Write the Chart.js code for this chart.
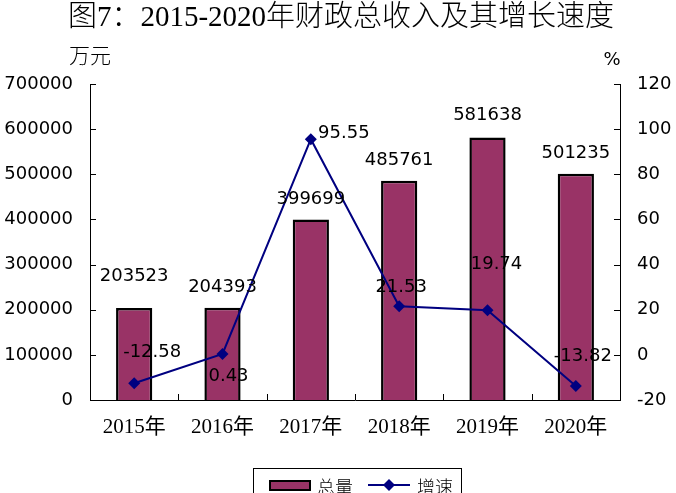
<!DOCTYPE html>
<html>
<head>
<meta charset="utf-8">
<script src="https://cdn.jsdelivr.net/npm/chart.js@4.4.1/dist/chart.umd.min.js"></script>
<style>
    html, body { margin: 0; padding: 0; background: #fff; }
    #wrap { width: 676px; height: 493px; }
</style>
</head>
<body>
<div id="wrap"><canvas id="chart"></canvas></div>
<script>
const years = ['2015年', '2016年', '2017年', '2018年', '2019年', '2020年'];
const total = [203523, 204393, 399699, 485761, 581638, 501235];
const growth = [-12.58, 0.43, 95.55, 21.53, 19.74, -13.82];

const total_min = 0, total_max = 700000, total_step = 100000;
const growth_min = -20, growth_max = 120, growth_step = 20;

// label placement (pixels)
const bar_label_gap = [32, 20, 20, 20, 22, 20];
const line_label_shift = [[18, -31], [6, 22], [33, -6], [2, -19], [9, -46], [7, -30]];

const num_font = '18px "DejaVu Sans"';
const cjk_font = '"Liberation Serif", "Noto Sans CJK SC"';

const extras = {
    id: 'extras',
    afterDatasetsDraw(chart) {
        const ctx = chart.ctx;
        ctx.save();
        ctx.fillStyle = '#000';
        ctx.font = num_font;
        ctx.textAlign = 'center';
        ctx.textBaseline = 'middle';

        chart.getDatasetMeta(0).data.forEach((bar, i) => {
            ctx.fillText(String(total[i]), bar.x, bar.y - bar_label_gap[i]);
        });
        chart.getDatasetMeta(1).data.forEach((pt, i) => {
            ctx.fillText(growth[i].toFixed(2), pt.x + line_label_shift[i][0], pt.y + line_label_shift[i][1]);
        });
        ctx.restore();
    },
    afterDraw(chart) {
        const ctx = chart.ctx;
        const area = chart.chartArea;
        const yl = chart.scales.y;
        const yr = chart.scales.y2;
        const x = chart.scales.x;
        ctx.save();

        // inward tick marks
        ctx.strokeStyle = '#000';
        ctx.lineWidth = 1;
        ctx.beginPath();
        for (let v = total_min; v <= total_max; v += total_step) {
            const py = Math.round(yl.getPixelForValue(v)) + 0.5;
            ctx.moveTo(area.left, py);
            ctx.lineTo(area.left + 6, py);
        }
        for (let v = growth_min; v <= growth_max; v += growth_step) {
            const py = Math.round(yr.getPixelForValue(v)) + 0.5;
            ctx.moveTo(area.right, py);
            ctx.lineTo(area.right - 6, py);
        }
        for (let i = 1; i < years.length; i++) {
            const px = Math.round((x.getPixelForValue(i - 1) + x.getPixelForValue(i)) / 2) + 0.5;
            ctx.moveTo(px, area.bottom);
            ctx.lineTo(px, area.bottom - 6);
        }
        ctx.stroke();

        // title and units
        ctx.fillStyle = '#000';
        ctx.textBaseline = 'middle';
        ctx.textAlign = 'center';
        ctx.font = '300 29px ' + cjk_font;
        ctx.fillText('图7：2015-2020年财政总收入及其增长速度', 341, 18);
        ctx.font = '300 21px "Noto Sans CJK SC"';
        ctx.fillText('万元', 90, 55);
        ctx.font = num_font;
        ctx.fillText('%', 612, 60);

        // legend
        ctx.strokeStyle = '#000';
        ctx.lineWidth = 1;
        ctx.strokeRect(253.5, 468.5, 208, 40);
        ctx.fillStyle = '#993366';
        ctx.fillRect(270, 481, 40, 9);
        ctx.lineWidth = 2;
        ctx.strokeRect(270, 481, 40, 9);
        ctx.fillStyle = '#000';
        ctx.textAlign = 'left';
        ctx.font = '300 18px "Noto Sans CJK SC"';
        ctx.fillText('总量', 317, 487);
        ctx.fillText('增速', 417, 487);
        ctx.strokeStyle = '#000080';
        ctx.lineWidth = 2;
        ctx.beginPath();
        ctx.moveTo(368, 485);
        ctx.lineTo(410, 485);
        ctx.stroke();
        ctx.fillStyle = '#000080';
        ctx.beginPath();
        ctx.moveTo(389, 479);
        ctx.lineTo(395, 485);
        ctx.lineTo(389, 491);
        ctx.lineTo(383, 485);
        ctx.closePath();
        ctx.fill();

        ctx.restore();
    }
};

new Chart(document.getElementById('chart'), {
    data: {
        labels: years,
        datasets: [
            {
                type: 'bar',
                label: '总量',
                data: total,
                yAxisID: 'y',
                backgroundColor: '#993366',
                borderColor: '#000',
                borderWidth: 2.5,
                borderSkipped: 'bottom',
                barPercentage: 0.41,
                categoryPercentage: 1,
                order: 1
            },
            {
                type: 'line',
                label: '增速',
                data: growth,
                yAxisID: 'y2',
                borderColor: '#000080',
                backgroundColor: '#000080',
                borderWidth: 2,
                pointStyle: 'rectRot',
                pointRadius: 6,
                pointBorderWidth: 0,
                tension: 0,
                order: 0
            }
        ]
    },
    options: {
        responsive: true,
        maintainAspectRatio: false,
        animation: false,
        events: [],
        layout: { padding: { top: 84, left: 0, right: 0, bottom: 0 } },
        plugins: {
            legend: { display: false },
            title: { display: false },
            tooltip: { enabled: false }
        },
        scales: {
            x: {
                grid: { display: false, drawTicks: false },
                border: { display: true, color: '#000', width: 1 },
                ticks: {
                    color: '#000',
                    font: { family: cjk_font, size: 21 },
                    padding: 15
                },
                afterFit(scale) { scale.height = 93; }
            },
            y: {
                position: 'left',
                min: total_min,
                max: total_max,
                grid: { display: false, drawTicks: false },
                border: { display: true, color: '#000', width: 1 },
                ticks: {
                    stepSize: total_step,
                    color: '#000',
                    font: { family: 'DejaVu Sans', size: 18 },
                    padding: 17,
                    callback: v => String(v)
                },
                afterFit(scale) { scale.width = 90; }
            },
            y2: {
                position: 'right',
                min: growth_min,
                max: growth_max,
                grid: { display: false, drawTicks: false },
                border: { display: true, color: '#000', width: 1 },
                ticks: {
                    stepSize: growth_step,
                    color: '#000',
                    font: { family: 'DejaVu Sans', size: 18 },
                    padding: 17,
                    callback: v => String(v)
                },
                afterFit(scale) { scale.width = 56; }
            }
        }
    },
    plugins: [extras]
});
</script>
</body>
</html>
